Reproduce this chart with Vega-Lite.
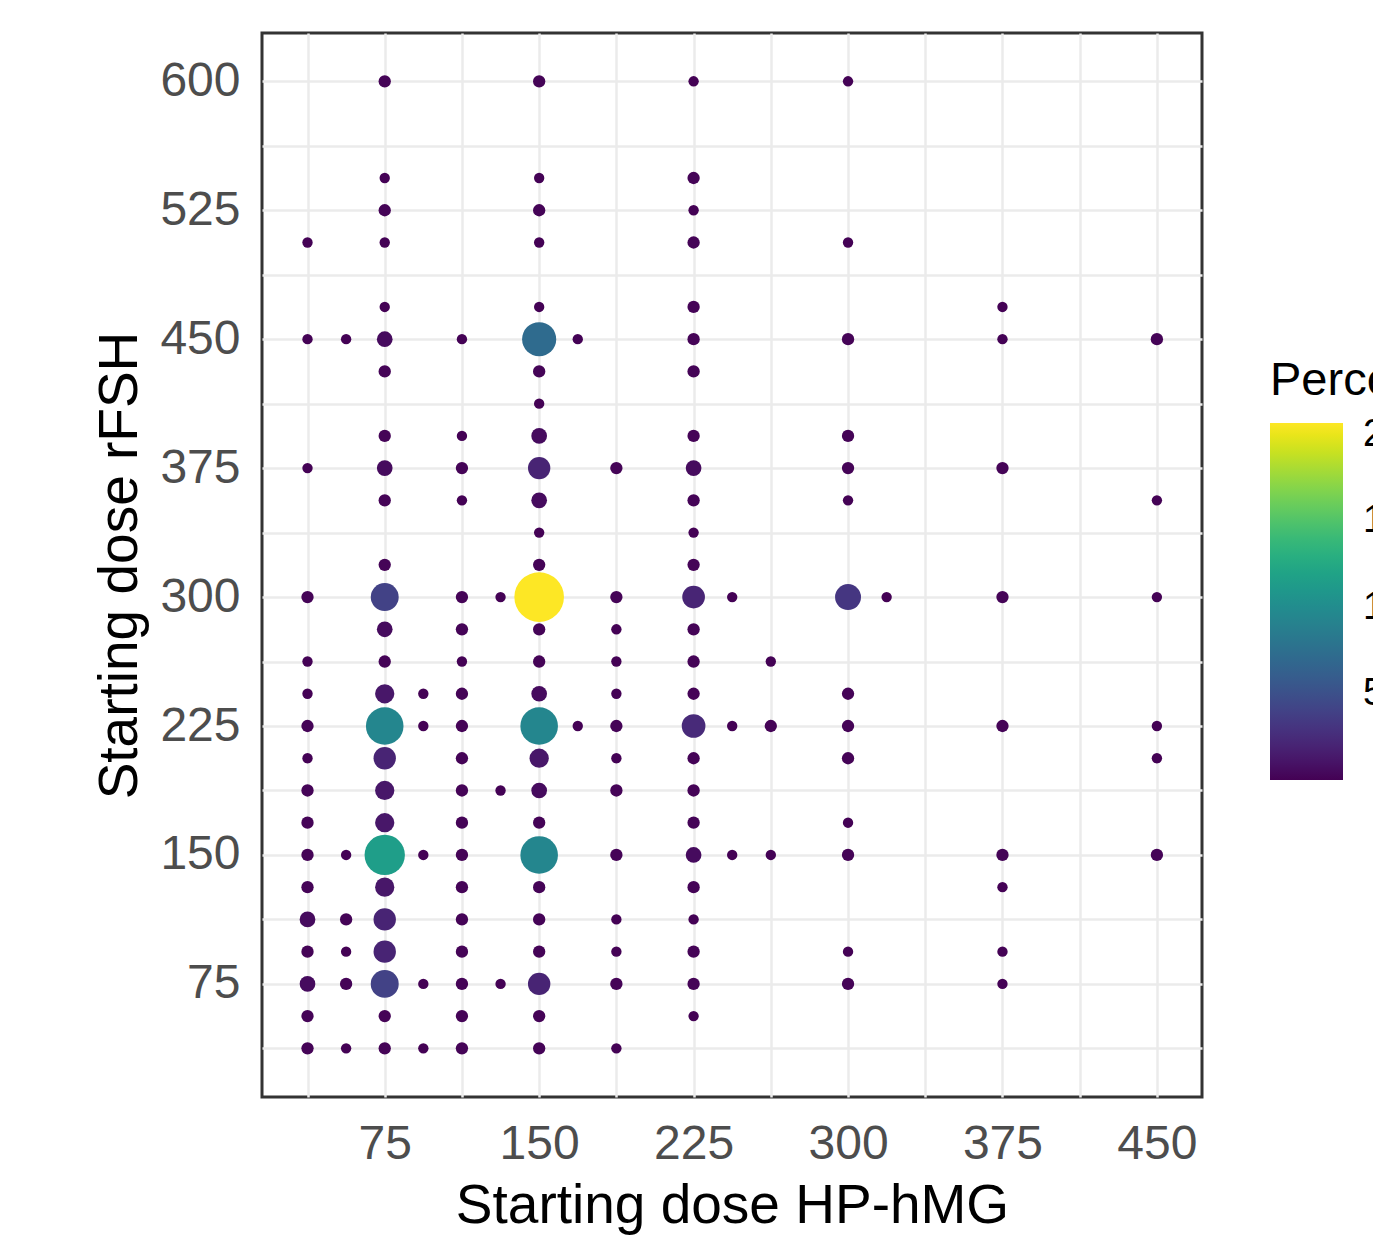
{
  "$schema": "https://vega.github.io/schema/vega-lite/v6.json",
  "width": 940,
  "height": 1064,
  "autosize": {"type": "none"},
  "padding": {"left": 262, "top": 33, "right": 171, "bottom": 142},
  "background": "white",
  "config": {
    "font": "Liberation Sans",
    "view": {"stroke": "#333333", "strokeWidth": 3},
    "axis": {
      "grid": true, "gridColor": "#EBEBEB", "gridWidth": 2.5,
      "domain": false, "ticks": false, "tickSize": 0,
      "labelColor": "#4D4D4D", "labelFontSize": 48, "labelFont": "Liberation Sans",
      "titleFont": "Liberation Sans", "titleFontSize": 55, "titleColor": "#000000", "titleFontWeight": "normal",
      "labelOverlap": false, "labelFlush": false
    }
  },
  "data": {"values": [
    {"hmg": 37.5, "rfsh": 506.25, "pct": 0.03},
    {"hmg": 37.5, "rfsh": 450, "pct": 0.03},
    {"hmg": 37.5, "rfsh": 375, "pct": 0.03},
    {"hmg": 37.5, "rfsh": 300, "pct": 0.16},
    {"hmg": 37.5, "rfsh": 262.5, "pct": 0.03},
    {"hmg": 37.5, "rfsh": 243.75, "pct": 0.03},
    {"hmg": 37.5, "rfsh": 225, "pct": 0.16},
    {"hmg": 37.5, "rfsh": 206.25, "pct": 0.03},
    {"hmg": 37.5, "rfsh": 187.5, "pct": 0.16},
    {"hmg": 37.5, "rfsh": 168.75, "pct": 0.16},
    {"hmg": 37.5, "rfsh": 150, "pct": 0.16},
    {"hmg": 37.5, "rfsh": 131.25, "pct": 0.16},
    {"hmg": 37.5, "rfsh": 112.5, "pct": 0.55},
    {"hmg": 37.5, "rfsh": 93.75, "pct": 0.16},
    {"hmg": 37.5, "rfsh": 75, "pct": 0.55},
    {"hmg": 37.5, "rfsh": 56.25, "pct": 0.16},
    {"hmg": 37.5, "rfsh": 37.5, "pct": 0.16},
    {"hmg": 56.25, "rfsh": 450, "pct": 0.03},
    {"hmg": 56.25, "rfsh": 150, "pct": 0.03},
    {"hmg": 56.25, "rfsh": 112.5, "pct": 0.16},
    {"hmg": 56.25, "rfsh": 93.75, "pct": 0.03},
    {"hmg": 56.25, "rfsh": 75, "pct": 0.16},
    {"hmg": 56.25, "rfsh": 37.5, "pct": 0.03},
    {"hmg": 75, "rfsh": 600, "pct": 0.16},
    {"hmg": 75, "rfsh": 543.75, "pct": 0.03},
    {"hmg": 75, "rfsh": 525, "pct": 0.16},
    {"hmg": 75, "rfsh": 506.25, "pct": 0.03},
    {"hmg": 75, "rfsh": 468.75, "pct": 0.03},
    {"hmg": 75, "rfsh": 450, "pct": 0.55},
    {"hmg": 75, "rfsh": 431.25, "pct": 0.16},
    {"hmg": 75, "rfsh": 393.75, "pct": 0.16},
    {"hmg": 75, "rfsh": 375, "pct": 0.55},
    {"hmg": 75, "rfsh": 356.25, "pct": 0.16},
    {"hmg": 75, "rfsh": 318.75, "pct": 0.16},
    {"hmg": 75, "rfsh": 300, "pct": 4.0},
    {"hmg": 75, "rfsh": 281.25, "pct": 0.55},
    {"hmg": 75, "rfsh": 262.5, "pct": 0.16},
    {"hmg": 75, "rfsh": 243.75, "pct": 1.2},
    {"hmg": 75, "rfsh": 225, "pct": 9.5},
    {"hmg": 75, "rfsh": 206.25, "pct": 2.0},
    {"hmg": 75, "rfsh": 187.5, "pct": 1.2},
    {"hmg": 75, "rfsh": 168.75, "pct": 1.2},
    {"hmg": 75, "rfsh": 150, "pct": 11.6},
    {"hmg": 75, "rfsh": 131.25, "pct": 1.2},
    {"hmg": 75, "rfsh": 112.5, "pct": 2.0},
    {"hmg": 75, "rfsh": 93.75, "pct": 2.0},
    {"hmg": 75, "rfsh": 75, "pct": 4.0},
    {"hmg": 75, "rfsh": 56.25, "pct": 0.16},
    {"hmg": 75, "rfsh": 37.5, "pct": 0.16},
    {"hmg": 93.75, "rfsh": 243.75, "pct": 0.03},
    {"hmg": 93.75, "rfsh": 225, "pct": 0.03},
    {"hmg": 93.75, "rfsh": 150, "pct": 0.03},
    {"hmg": 93.75, "rfsh": 75, "pct": 0.03},
    {"hmg": 93.75, "rfsh": 37.5, "pct": 0.03},
    {"hmg": 112.5, "rfsh": 450, "pct": 0.03},
    {"hmg": 112.5, "rfsh": 393.75, "pct": 0.03},
    {"hmg": 112.5, "rfsh": 375, "pct": 0.16},
    {"hmg": 112.5, "rfsh": 356.25, "pct": 0.03},
    {"hmg": 112.5, "rfsh": 300, "pct": 0.16},
    {"hmg": 112.5, "rfsh": 281.25, "pct": 0.16},
    {"hmg": 112.5, "rfsh": 262.5, "pct": 0.03},
    {"hmg": 112.5, "rfsh": 243.75, "pct": 0.16},
    {"hmg": 112.5, "rfsh": 225, "pct": 0.16},
    {"hmg": 112.5, "rfsh": 206.25, "pct": 0.16},
    {"hmg": 112.5, "rfsh": 187.5, "pct": 0.16},
    {"hmg": 112.5, "rfsh": 168.75, "pct": 0.16},
    {"hmg": 112.5, "rfsh": 150, "pct": 0.16},
    {"hmg": 112.5, "rfsh": 131.25, "pct": 0.16},
    {"hmg": 112.5, "rfsh": 112.5, "pct": 0.16},
    {"hmg": 112.5, "rfsh": 93.75, "pct": 0.16},
    {"hmg": 112.5, "rfsh": 75, "pct": 0.16},
    {"hmg": 112.5, "rfsh": 56.25, "pct": 0.16},
    {"hmg": 112.5, "rfsh": 37.5, "pct": 0.16},
    {"hmg": 131.25, "rfsh": 300, "pct": 0.03},
    {"hmg": 131.25, "rfsh": 187.5, "pct": 0.03},
    {"hmg": 131.25, "rfsh": 75, "pct": 0.03},
    {"hmg": 150, "rfsh": 600, "pct": 0.16},
    {"hmg": 150, "rfsh": 543.75, "pct": 0.03},
    {"hmg": 150, "rfsh": 525, "pct": 0.16},
    {"hmg": 150, "rfsh": 506.25, "pct": 0.03},
    {"hmg": 150, "rfsh": 468.75, "pct": 0.03},
    {"hmg": 150, "rfsh": 450, "pct": 7.2},
    {"hmg": 150, "rfsh": 431.25, "pct": 0.16},
    {"hmg": 150, "rfsh": 412.5, "pct": 0.03},
    {"hmg": 150, "rfsh": 393.75, "pct": 0.55},
    {"hmg": 150, "rfsh": 375, "pct": 2.0},
    {"hmg": 150, "rfsh": 356.25, "pct": 0.55},
    {"hmg": 150, "rfsh": 337.5, "pct": 0.03},
    {"hmg": 150, "rfsh": 318.75, "pct": 0.16},
    {"hmg": 150, "rfsh": 300, "pct": 20.7},
    {"hmg": 150, "rfsh": 281.25, "pct": 0.16},
    {"hmg": 150, "rfsh": 262.5, "pct": 0.16},
    {"hmg": 150, "rfsh": 243.75, "pct": 0.55},
    {"hmg": 150, "rfsh": 225, "pct": 9.5},
    {"hmg": 150, "rfsh": 206.25, "pct": 1.2},
    {"hmg": 150, "rfsh": 187.5, "pct": 0.55},
    {"hmg": 150, "rfsh": 168.75, "pct": 0.16},
    {"hmg": 150, "rfsh": 150, "pct": 9.5},
    {"hmg": 150, "rfsh": 131.25, "pct": 0.16},
    {"hmg": 150, "rfsh": 112.5, "pct": 0.16},
    {"hmg": 150, "rfsh": 93.75, "pct": 0.16},
    {"hmg": 150, "rfsh": 75, "pct": 2.0},
    {"hmg": 150, "rfsh": 56.25, "pct": 0.16},
    {"hmg": 150, "rfsh": 37.5, "pct": 0.16},
    {"hmg": 168.75, "rfsh": 450, "pct": 0.03},
    {"hmg": 168.75, "rfsh": 225, "pct": 0.03},
    {"hmg": 187.5, "rfsh": 375, "pct": 0.16},
    {"hmg": 187.5, "rfsh": 300, "pct": 0.16},
    {"hmg": 187.5, "rfsh": 281.25, "pct": 0.03},
    {"hmg": 187.5, "rfsh": 262.5, "pct": 0.03},
    {"hmg": 187.5, "rfsh": 243.75, "pct": 0.03},
    {"hmg": 187.5, "rfsh": 225, "pct": 0.16},
    {"hmg": 187.5, "rfsh": 206.25, "pct": 0.03},
    {"hmg": 187.5, "rfsh": 187.5, "pct": 0.16},
    {"hmg": 187.5, "rfsh": 150, "pct": 0.16},
    {"hmg": 187.5, "rfsh": 112.5, "pct": 0.03},
    {"hmg": 187.5, "rfsh": 93.75, "pct": 0.03},
    {"hmg": 187.5, "rfsh": 75, "pct": 0.16},
    {"hmg": 187.5, "rfsh": 37.5, "pct": 0.03},
    {"hmg": 225, "rfsh": 600, "pct": 0.03},
    {"hmg": 225, "rfsh": 543.75, "pct": 0.16},
    {"hmg": 225, "rfsh": 525, "pct": 0.03},
    {"hmg": 225, "rfsh": 506.25, "pct": 0.16},
    {"hmg": 225, "rfsh": 468.75, "pct": 0.16},
    {"hmg": 225, "rfsh": 450, "pct": 0.16},
    {"hmg": 225, "rfsh": 431.25, "pct": 0.16},
    {"hmg": 225, "rfsh": 393.75, "pct": 0.16},
    {"hmg": 225, "rfsh": 375, "pct": 0.55},
    {"hmg": 225, "rfsh": 356.25, "pct": 0.16},
    {"hmg": 225, "rfsh": 337.5, "pct": 0.03},
    {"hmg": 225, "rfsh": 318.75, "pct": 0.16},
    {"hmg": 225, "rfsh": 300, "pct": 2.1},
    {"hmg": 225, "rfsh": 281.25, "pct": 0.16},
    {"hmg": 225, "rfsh": 262.5, "pct": 0.16},
    {"hmg": 225, "rfsh": 243.75, "pct": 0.16},
    {"hmg": 225, "rfsh": 225, "pct": 2.4},
    {"hmg": 225, "rfsh": 206.25, "pct": 0.16},
    {"hmg": 225, "rfsh": 187.5, "pct": 0.16},
    {"hmg": 225, "rfsh": 168.75, "pct": 0.16},
    {"hmg": 225, "rfsh": 150, "pct": 0.55},
    {"hmg": 225, "rfsh": 131.25, "pct": 0.16},
    {"hmg": 225, "rfsh": 112.5, "pct": 0.03},
    {"hmg": 225, "rfsh": 93.75, "pct": 0.16},
    {"hmg": 225, "rfsh": 75, "pct": 0.16},
    {"hmg": 225, "rfsh": 56.25, "pct": 0.03},
    {"hmg": 243.75, "rfsh": 300, "pct": 0.03},
    {"hmg": 243.75, "rfsh": 225, "pct": 0.03},
    {"hmg": 243.75, "rfsh": 150, "pct": 0.03},
    {"hmg": 262.5, "rfsh": 262.5, "pct": 0.03},
    {"hmg": 262.5, "rfsh": 225, "pct": 0.16},
    {"hmg": 262.5, "rfsh": 150, "pct": 0.03},
    {"hmg": 300, "rfsh": 600, "pct": 0.03},
    {"hmg": 300, "rfsh": 506.25, "pct": 0.03},
    {"hmg": 300, "rfsh": 450, "pct": 0.16},
    {"hmg": 300, "rfsh": 393.75, "pct": 0.16},
    {"hmg": 300, "rfsh": 375, "pct": 0.16},
    {"hmg": 300, "rfsh": 356.25, "pct": 0.03},
    {"hmg": 300, "rfsh": 300, "pct": 3.2},
    {"hmg": 300, "rfsh": 243.75, "pct": 0.16},
    {"hmg": 300, "rfsh": 225, "pct": 0.16},
    {"hmg": 300, "rfsh": 206.25, "pct": 0.16},
    {"hmg": 300, "rfsh": 168.75, "pct": 0.03},
    {"hmg": 300, "rfsh": 150, "pct": 0.16},
    {"hmg": 300, "rfsh": 93.75, "pct": 0.03},
    {"hmg": 300, "rfsh": 75, "pct": 0.16},
    {"hmg": 318.75, "rfsh": 300, "pct": 0.03},
    {"hmg": 375, "rfsh": 468.75, "pct": 0.03},
    {"hmg": 375, "rfsh": 450, "pct": 0.03},
    {"hmg": 375, "rfsh": 375, "pct": 0.16},
    {"hmg": 375, "rfsh": 300, "pct": 0.16},
    {"hmg": 375, "rfsh": 225, "pct": 0.16},
    {"hmg": 375, "rfsh": 150, "pct": 0.16},
    {"hmg": 375, "rfsh": 131.25, "pct": 0.03},
    {"hmg": 375, "rfsh": 93.75, "pct": 0.03},
    {"hmg": 375, "rfsh": 75, "pct": 0.03},
    {"hmg": 450, "rfsh": 450, "pct": 0.16},
    {"hmg": 450, "rfsh": 356.25, "pct": 0.03},
    {"hmg": 450, "rfsh": 300, "pct": 0.03},
    {"hmg": 450, "rfsh": 225, "pct": 0.03},
    {"hmg": 450, "rfsh": 206.25, "pct": 0.03},
    {"hmg": 450, "rfsh": 150, "pct": 0.16}
  ]},
  "mark": {"type": "circle", "opacity": 1},
  "encoding": {
    "x": {
      "field": "hmg", "type": "quantitative",
      "scale": {"domain": [15.4, 471.9], "nice": false, "zero": false},
      "axis": {
        "title": "Starting dose HP-hMG",
        "values": [37.5, 75, 112.5, 150, 187.5, 225, 262.5, 300, 337.5, 375, 412.5, 450],
        "labelExpr": "datum.value % 75 === 0 ? datum.label : ''",
        "labelPadding": 23,
        "titleY": 82
      }
    },
    "y": {
      "field": "rfsh", "type": "quantitative",
      "scale": {"domain": [9.2, 628.1], "nice": false, "zero": false},
      "axis": {
        "title": "Starting dose rFSH",
        "values": [37.5, 75, 112.5, 150, 187.5, 225, 262.5, 300, 337.5, 375, 412.5, 450, 487.5, 525, 562.5, 600],
        "labelExpr": "datum.value % 75 === 0 ? datum.label : ''",
        "labelPadding": 22,
        "titleX": -114
      }
    },
    "color": {
      "field": "pct", "type": "quantitative",
      "scale": {"scheme": "viridis", "domain": [0, 20.7]},
      "legend": {
        "type": "gradient",
        "title": "Percentage",
        "orient": "none", "legendX": 1008, "legendY": 325,
        "direction": "vertical", "padding": 0, "offset": 0,
        "gradientLength": 357, "gradientThickness": 73, "gradientStrokeWidth": 0,
        "titleFontSize": 47, "titleFont": "Liberation Sans", "titleColor": "#000000", "titleFontWeight": "normal",
        "titlePadding": 18,
        "labelFontSize": 38, "labelColor": "#000000", "labelOffset": 20,
        "values": [5, 10, 15, 20]
      }
    },
    "size": {
      "field": "pct", "type": "quantitative", "title": "Size",
      "scale": {"type": "pow", "exponent": 0.75, "domain": [0, 20.72], "range": [90, 2463]},
      "legend": null
    }
  }
}
